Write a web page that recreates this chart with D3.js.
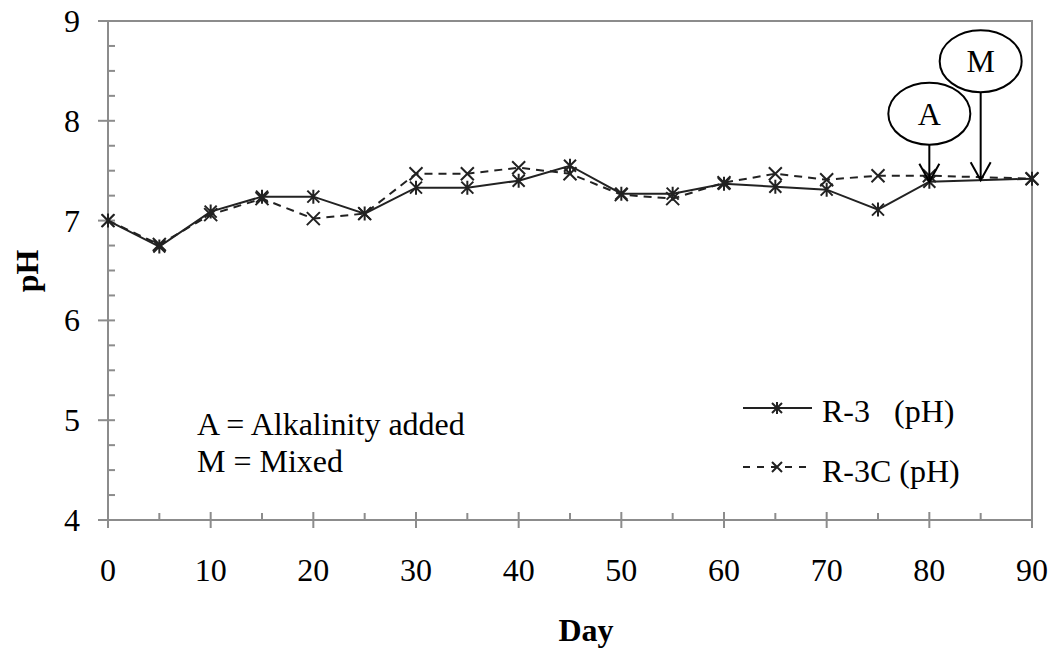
<!DOCTYPE html>
<html>
<head>
<meta charset="utf-8">
<script src="https://cdn.jsdelivr.net/npm/d3@7"></script>
<style>
  html, body { margin: 0; padding: 0; background: #fff; }
  svg { display: block; font-family: "Liberation Serif", "Times New Roman", serif; }
</style>
</head>
<body>
<svg id="chart" width="1055" height="650"></svg>
<script>
// Sampling days and pH readings for the two reactors
const days = [0, 5, 10, 15, 20, 25, 30, 35, 40, 45, 50, 55, 60, 65, 70, 75, 80, 90];
const r3pH  = [7.00, 6.74, 7.09, 7.24, 7.24, 7.07, 7.33, 7.33, 7.40, 7.55, 7.27, 7.27, 7.37, 7.34, 7.31, 7.11, 7.39, 7.42];
const r3cpH = [7.00, 6.76, 7.06, 7.22, 7.02, 7.07, 7.47, 7.47, 7.53, 7.47, 7.26, 7.22, 7.38, 7.47, 7.41, 7.45, 7.45, 7.42];

const xTicks = [0, 10, 20, 30, 40, 50, 60, 70, 80, 90];
const yTicks = [4, 5, 6, 7, 8, 9];

// Events marked on the R-3 line
const eventDays = [80, 85];
const eventLabels = ["A", "M"];

const notes = ["A = Alkalinity added", "M = Mixed"];
const seriesNames = ["R-3", "R-3C (pH)"];

(function draw() {
  const svg = d3.select("#chart");
  const plotL = 108, plotR = 1032, plotT = 21, plotB = 520;
  const x = d3.scaleLinear().domain([0, 90]).range([plotL, plotR]);
  const y = d3.scaleLinear().domain([4, 9]).range([plotB, plotT]);

  const axisColor = "#8c8c8c";
  const ink = "#222";

  // plot frame (top and right edges)
  svg.append("path")
    .attr("d", `M${plotL},${plotT}H${plotR}V${plotB}`)
    .attr("fill", "none").attr("stroke", axisColor).attr("stroke-width", 2);

  // y axis: major ticks crossing the line, minor ticks pointing in
  const yMinor = d3.range(4, 9.001, 0.25).filter(v => Math.abs(v - Math.round(v)) > 1e-6);
  const yAxis = svg.append("g");
  yAxis.append("line").attr("x1", plotL).attr("x2", plotL).attr("y1", plotT).attr("y2", plotB)
    .attr("stroke", axisColor).attr("stroke-width", 2);
  yAxis.selectAll("line.major").data(yTicks).join("line").attr("class", "major")
    .attr("x1", plotL - 10).attr("x2", plotL + 7)
    .attr("y1", d => y(d)).attr("y2", d => y(d))
    .attr("stroke", axisColor).attr("stroke-width", 2);
  yAxis.selectAll("line.minor").data(yMinor).join("line").attr("class", "minor")
    .attr("x1", plotL).attr("x2", plotL + 7)
    .attr("y1", d => y(d)).attr("y2", d => y(d))
    .attr("stroke", axisColor).attr("stroke-width", 2);
  yAxis.selectAll("text").data(yTicks).join("text")
    .attr("x", plotL - 28).attr("y", d => y(d) + 11)
    .attr("text-anchor", "end").attr("font-size", 32).attr("fill", "#000")
    .text(d => d);

  // x axis
  const xMinor = d3.range(5, 90, 10);
  const xAxis = svg.append("g");
  xAxis.append("line").attr("x1", plotL).attr("x2", plotR).attr("y1", plotB).attr("y2", plotB)
    .attr("stroke", axisColor).attr("stroke-width", 2);
  xAxis.selectAll("line.major").data(xTicks).join("line").attr("class", "major")
    .attr("x1", d => x(d)).attr("x2", d => x(d))
    .attr("y1", plotB - 8).attr("y2", plotB + 8)
    .attr("stroke", axisColor).attr("stroke-width", 2);
  xAxis.selectAll("line.minor").data(xMinor).join("line").attr("class", "minor")
    .attr("x1", d => x(d)).attr("x2", d => x(d))
    .attr("y1", plotB - 7).attr("y2", plotB)
    .attr("stroke", axisColor).attr("stroke-width", 2);
  xAxis.selectAll("text").data(xTicks).join("text")
    .attr("x", d => x(d)).attr("y", 581)
    .attr("text-anchor", "middle").attr("font-size", 32).attr("fill", "#000")
    .text(d => d);

  // axis titles
  svg.append("text").attr("x", 586).attr("y", 641)
    .attr("text-anchor", "middle").attr("font-size", 32).attr("font-weight", "bold")
    .text("Day");
  svg.append("text").attr("transform", "translate(38,271) rotate(-90)")
    .attr("text-anchor", "middle").attr("font-size", 32).attr("font-weight", "bold")
    .text("pH");

  // marker shapes
  const crossPath = s => `M${-s},${-s}L${s},${s}M${-s},${s}L${s},${-s}`;
  const starPath = s => crossPath(s) + `M0,${-s - 1}L0,${s + 1}`;

  const line = d3.line().x(d => x(d[0])).y(d => y(d[1]));
  const r3Pts = days.map((d, i) => [d, r3pH[i]]);
  const r3cPts = days.map((d, i) => [d, r3cpH[i]]);

  // R-3C dashed series
  svg.append("path").datum(r3cPts).attr("d", line)
    .attr("fill", "none").attr("stroke", ink).attr("stroke-width", 2)
    .attr("stroke-dasharray", "8,6");
  svg.append("g").selectAll("path").data(r3cPts).join("path")
    .attr("transform", d => `translate(${x(d[0])},${y(d[1])})`)
    .attr("d", crossPath(6.5)).attr("stroke", ink).attr("stroke-width", 2).attr("fill", "none");

  // R-3 solid series
  svg.append("path").datum(r3Pts).attr("d", line)
    .attr("fill", "none").attr("stroke", ink).attr("stroke-width", 2);
  svg.append("g").selectAll("path").data(r3Pts).join("path")
    .attr("transform", d => `translate(${x(d[0])},${y(d[1])})`)
    .attr("d", starPath(6)).attr("stroke", ink).attr("stroke-width", 2).attr("fill", "none");

  // event call-outs: labelled ellipse with an arrow down to the R-3 line
  const lift = [37, 88];
  const interp = d3.scaleLinear().domain(days).range(r3pH);
  const ev = svg.append("g");
  eventDays.forEach((d, i) => {
    const tipY = y(interp(d));
    const cx = x(d);
    const baseY = tipY - lift[i];
    const cy = baseY - 31;
    ev.append("line").attr("x1", cx).attr("x2", cx).attr("y1", baseY).attr("y2", tipY)
      .attr("stroke", "#000").attr("stroke-width", 2);
    ev.append("path").attr("d", `M${cx - 10},${tipY - 18}L${cx},${tipY}L${cx + 10},${tipY - 18}`)
      .attr("fill", "none").attr("stroke", "#000").attr("stroke-width", 2);
    ev.append("ellipse").attr("cx", cx).attr("cy", cy).attr("rx", 41).attr("ry", 31)
      .attr("fill", "#fff").attr("stroke", "#000").attr("stroke-width", 2);
    ev.append("text").attr("x", cx).attr("y", cy + 11)
      .attr("text-anchor", "middle").attr("font-size", 32).text(eventLabels[i]);
  });

  // explanatory notes
  svg.append("g").selectAll("text").data(notes).join("text")
    .attr("x", 197).attr("y", (d, i) => 435 + i * 37)
    .attr("font-size", 32).text(d => d);

  // legend
  const lg = svg.append("g");
  lg.append("line").attr("x1", 743).attr("x2", 812).attr("y1", 408).attr("y2", 408)
    .attr("stroke", ink).attr("stroke-width", 2);
  lg.append("path").attr("transform", "translate(777,408)").attr("d", starPath(5))
    .attr("stroke", ink).attr("stroke-width", 2).attr("fill", "none");
  const t1 = lg.append("text").attr("x", 822).attr("y", 422).attr("font-size", 32);
  t1.append("tspan").text(seriesNames[0]);
  t1.append("tspan").attr("x", 894).text("(pH)");

  lg.append("line").attr("x1", 743).attr("x2", 812).attr("y1", 467).attr("y2", 467)
    .attr("stroke", ink).attr("stroke-width", 2).attr("stroke-dasharray", "7,7");
  lg.append("path").attr("transform", "translate(777,467)").attr("d", crossPath(5))
    .attr("stroke", ink).attr("stroke-width", 2).attr("fill", "none");
  lg.append("text").attr("x", 822).attr("y", 482).attr("font-size", 32).text(seriesNames[1]);
})();
</script>
</body>
</html>
